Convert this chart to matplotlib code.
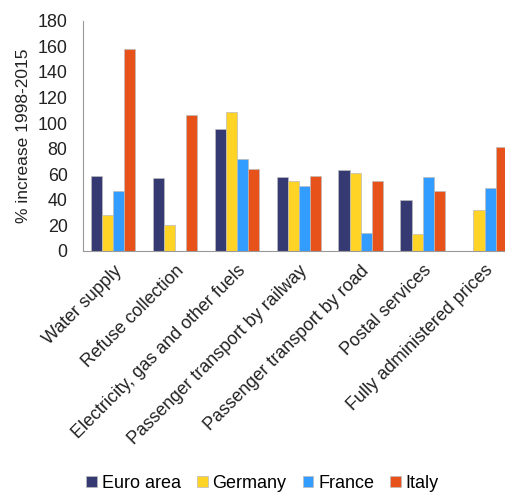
import numpy as np
import matplotlib.pyplot as plt

plt.rcParams['font.family'] = ['Liberation Sans', 'DejaVu Sans']

categories = ['Water supply', 'Refuse collection', 'Electricity, gas and other fuels',
              'Passenger transport by railway', 'Passenger transport by road',
              'Postal services', 'Fully administered prices']
euro_area = [59, 57, 95, 58, 63, 40, np.nan]
germany = [28, 20, 109, 55, 61, 13, 32]
france = [47, np.nan, 72, 51, 14, 58, 49]
italy = [158, 106, 64, 59, 55, 47, 81]

series = ['Euro area', 'Germany', 'France', 'Italy']
colors = ['#363a72', '#ffd427', '#339cff', '#e6521a']

fig = plt.figure(figsize=(5.05, 4.95), dpi=100)
ax = fig.add_axes([0.164, 0.493, 0.836, 0.465])

x = np.arange(len(categories))
w = 0.18
for i, (vals, name, col) in enumerate(zip([euro_area, germany, france, italy], series, colors)):
    ax.bar(x + (i - 1.5) * w, vals, width=w, color=col, label=name,
           edgecolor='#bbbbbb', linewidth=0.5)

ax.set_ylim(0, 180)
ax.set_yticks(range(0, 181, 20))
ax.set_xlim(-0.49, 6.33)
ax.set_xticks(x)
ax.set_xticklabels(categories, rotation=45, ha='right', rotation_mode='anchor')
ax.tick_params(axis='both', length=0, labelsize=12.9, colors='#222222')
ax.tick_params(axis='x', pad=8)
ax.tick_params(axis='y', pad=11)
ax.set_ylabel('% increase 1998-2015', fontsize=12.5, color='#222222', labelpad=5)
for s in ['top', 'right']:
    ax.spines[s].set_visible(False)
for s in ['left', 'bottom']:
    ax.spines[s].set_color('#999999')

fig.legend(loc='lower center', bbox_to_anchor=(0.52, -0.026), ncol=4, frameon=False,
           fontsize=13, handlelength=0.6, handleheight=0.6, handletextpad=0.25,
           columnspacing=0.9)

fig.savefig('out.png', dpi=100)
